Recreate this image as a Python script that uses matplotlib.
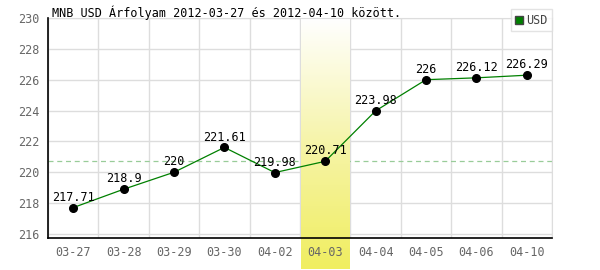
import numpy as np
import matplotlib.pyplot as plt
from matplotlib.colors import LinearSegmentedColormap

dates = ['03-27', '03-28', '03-29', '03-30', '04-02', '04-03', '04-04', '04-05', '04-06', '04-10']
usd = [217.71, 218.9, 220, 221.61, 219.98, 220.71, 223.98, 226, 226.12, 226.29]
labels = ['217.71', '218.9', '220', '221.61', '219.98', '220.71', '223.98', '226', '226.12', '226.29']
highlight = 5
ref_value = 220.71
yticks = [216, 218, 220, 222, 224, 226, 228, 230]

plt.rcParams['font.family'] = 'DejaVu Sans Mono'

fig = plt.figure(figsize=(6, 2.7), dpi=100)
ax = fig.add_axes([0.08, 0.1185, 0.84, 0.815])

x = np.arange(len(dates))
ylo = 215.74
ax.set_xlim(-0.5, len(dates) - 0.5)
ax.set_ylim(ylo, 230)

for v in yticks:
    ax.axhline(v, color='#dddddd', lw=1, zorder=1)
for b in np.arange(-0.5, len(dates), 1.0):
    ax.axvline(b, color='#dddddd', lw=1, zorder=1)

ax.axhline(ref_value, color='#99cc99', lw=0.9, ls=(0, (4, 3)), zorder=2)

# highlighted day column, white -> yellow gradient, runs past the axis
grad = np.linspace(0, 1, 256).reshape(-1, 1)
cmap = LinearSegmentedColormap.from_list('hl', ['#ffffff', '#f6f4a8', '#f0ee60'])
ax.imshow(grad, aspect='auto', cmap=cmap, origin='upper',
          extent=[highlight - 0.48, highlight + 0.48, ylo - 2.0, 230],
          clip_on=False, zorder=2.5)

ax.plot(x, usd, color='#008000', lw=0.9, zorder=3)
ax.plot(x, usd, 'o', color='black', ms=5.5, zorder=4)
for xi, v, t in zip(x, usd, labels):
    ax.text(xi, v + 0.25, t, ha='center', va='bottom', fontsize=8.5, color='black', zorder=5)

ax.set_xticks(x)
ax.set_xticklabels(dates)
ax.set_yticks(yticks)
ax.tick_params(length=0, labelsize=8.5, colors='#666666', pad=6)
ax.xaxis.set_zorder(6)
for s in ['top', 'right']:
    ax.spines[s].set_color('#dddddd')
for s in ['left', 'bottom']:
    ax.spines[s].set_color('black')
    ax.spines[s].set_linewidth(1.2)
    ax.spines[s].set_zorder(6)

fig.text(52 / 600, 1 - 13 / 270, 'MNB USD Árfolyam 2012-03-27 és 2012-04-10 között.',
         fontsize=8.5, va='center', ha='left')

# legend box
ax.plot([], [], 's', color='#008000', mec='#444444', ms=5.5, label='USD')
leg = ax.legend(loc='upper right', bbox_to_anchor=(552 / 600, 1 - 9 / 270),
                bbox_transform=fig.transFigure, frameon=True,
                fontsize=8.5, handlelength=0.6, handletextpad=0.3, borderpad=0.4,
                borderaxespad=0, fancybox=False, edgecolor='#dddddd')
leg.get_frame().set_linewidth(1)
for t in leg.get_texts():
    t.set_color('#444444')

fig.savefig('out.png', dpi=100)
